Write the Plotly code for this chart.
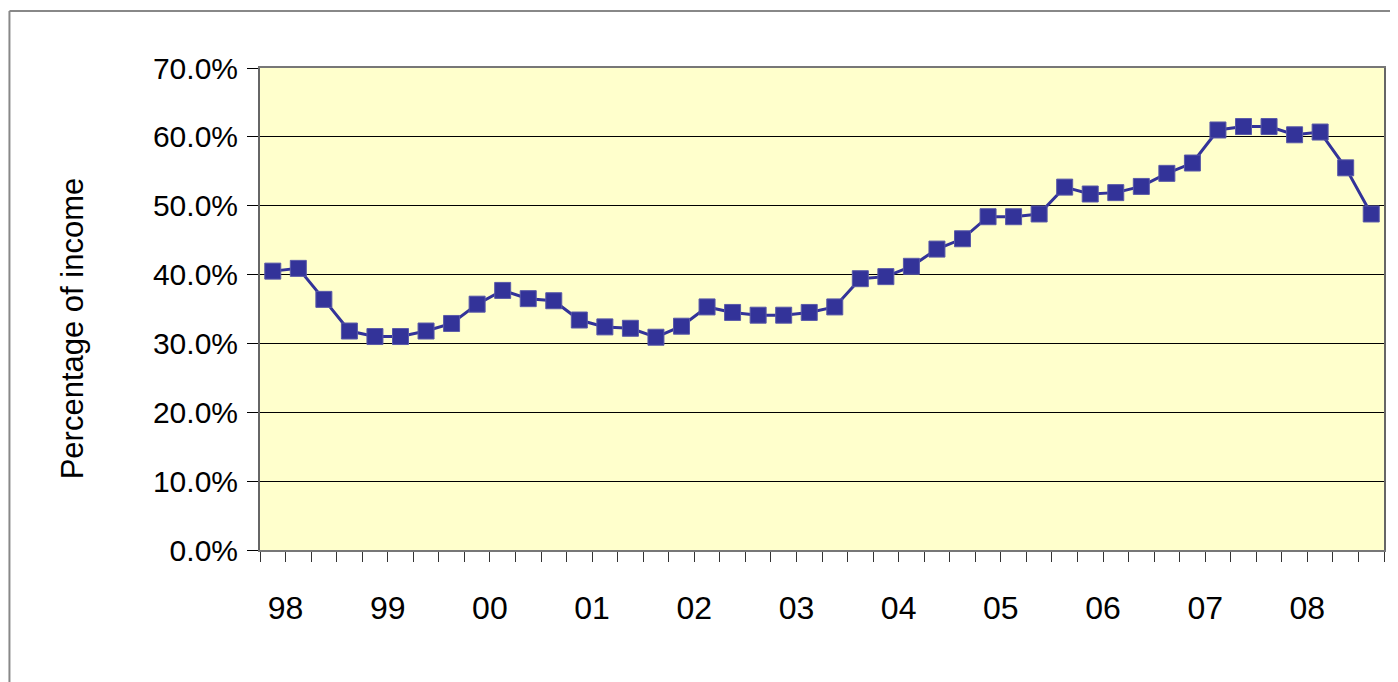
import plotly.graph_objects as go

# Quarterly data, 1998 Q1 .. 2008 Q4
quarters = [f"{y}Q{q}" for y in range(1998, 2009) for q in range(1, 5)]
values = [
    40.5, 40.9, 36.4, 31.8,   # 1998
    31.0, 31.0, 31.8, 32.9,   # 1999
    35.7, 37.7, 36.5, 36.2,   # 2000
    33.4, 32.4, 32.2, 30.9,   # 2001
    32.5, 35.3, 34.5, 34.1,   # 2002
    34.1, 34.5, 35.3, 39.4,   # 2003
    39.7, 41.2, 43.7, 45.2,   # 2004
    48.4, 48.4, 48.8, 52.7,   # 2005
    51.7, 51.9, 52.8, 54.7,   # 2006
    56.2, 61.0, 61.5, 61.5,   # 2007
    60.3, 60.7, 55.5, 48.8,   # 2008
]
year_labels = ["98", "99", "00", "01", "02", "03", "04", "05", "06", "07", "08"]
y_ticks = [0.0, 0.1, 0.2, 0.3, 0.4, 0.5, 0.6, 0.7]
y_title = "Percentage of income"

x_idx = list(range(len(quarters)))
y_frac = [v / 100 for v in values]

# page has an 8px body margin; figure is sized/positioned to compensate
W, H = 1390, 674
L, R, T, B = 252, 12, 60, 132
pw, ph = W - L - R, H - T - B

fig = go.Figure()
fig.add_trace(go.Scatter(
    x=x_idx, y=y_frac, mode="lines+markers",
    text=quarters,
    line=dict(color="#333399", width=3),
    marker=dict(symbol="square", size=16, color="#333399",
                line=dict(width=1, color="#5a5aa8")),
    showlegend=False,
))

label_pos = [0.5 + 4 * k for k in range(len(year_labels))]
minor_pos = [-0.5 + i for i in range(len(quarters) + 1)]

fig.update_layout(
    width=W, height=H,
    margin=dict(l=L, r=R, t=T, b=B, pad=0),
    paper_bgcolor="white",
    plot_bgcolor="#FFFFCC",
    xaxis=dict(
        range=[-0.5, len(quarters) - 0.5],
        tickmode="array", tickvals=label_pos, ticktext=year_labels,
        ticks="outside", ticklen=10, tickwidth=1, tickcolor="#333",
        ticklabelstandoff=19,
        tickfont=dict(family="Liberation Sans Narrow, Liberation Sans, Arial", size=32, color="black"),
        minor=dict(tickmode="array", tickvals=minor_pos, ticks="outside",
                   ticklen=10, tickwidth=1, tickcolor="#333", showgrid=False),
        showgrid=False, zeroline=False,
        showline=True, linecolor="#777", linewidth=2, mirror=True,
    ),
    yaxis=dict(
        range=[0, 0.7],
        tickmode="array", tickvals=y_ticks, tickformat=".1%",
        ticks="outside", ticklen=11, tickwidth=1, tickcolor="black",
        ticklabelstandoff=3,
        tickfont=dict(family="Liberation Sans, Arial", size=30, color="black"),
        showgrid=True, gridcolor="black", gridwidth=1,
        zeroline=False,
        showline=True, linecolor="#666", linewidth=2, mirror=True,
    ),
)

# y-axis title, placed to match the reference position
fig.add_annotation(
    text=y_title, textangle=-90, showarrow=False,
    xref="paper", yref="paper",
    x=(64 - L) / pw, y=1 - (320 - T) / ph,
    xanchor="center", yanchor="middle",
    font=dict(family="Liberation Sans, Arial", size=31, color="black"),
)

# outer chart-area border (left and top edges visible in the reference)
x_left = (1 - L) / pw
y_top = 1 + (T - 3) / ph
fig.add_shape(type="line", xref="paper", yref="paper",
              x0=x_left, x1=x_left, y0=y_top, y1=-0.5,
              line=dict(color="#888", width=2))
fig.add_shape(type="line", xref="paper", yref="paper",
              x0=x_left, x1=1.2, y0=y_top, y1=y_top,
              line=dict(color="#888", width=2))

fig.write_html("out.html")
